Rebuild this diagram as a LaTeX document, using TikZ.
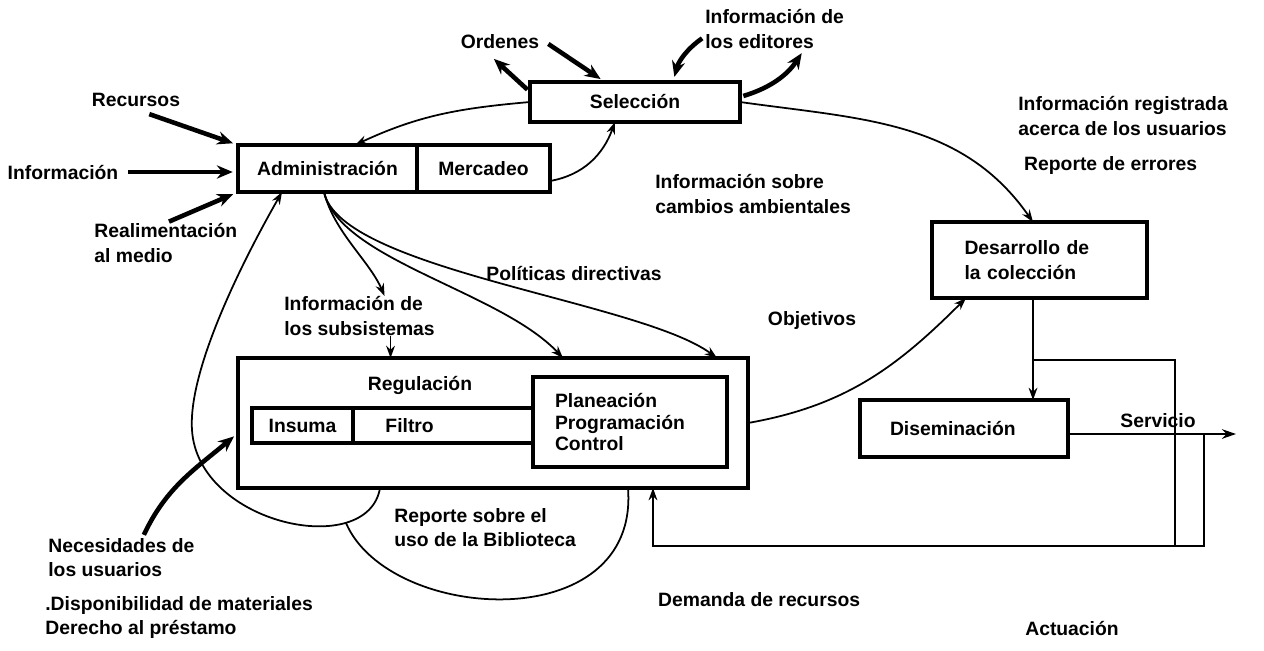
\documentclass[tikz,border=0pt]{standalone}
\usepackage{fontspec}
\setmainfont{Liberation Sans}
\usetikzlibrary{positioning, arrows.meta}

\begin{document}
\begin{tikzpicture}[
            x=0.02cm, y=-0.02cm, % one unit = one pixel of the scan
            every node/.style={font=\bfseries\fontsize{11}{14}\selectfont},
            block/.style={rectangle, draw, line width=2.2pt, outer sep=0pt, inner sep=2pt},
            note/.style={align=left, inner sep=0pt},
            arrow/.style={line width=1pt, -{Stealth[length=7pt, width=5pt]}}, % thin connectors
            bigarrow/.style={line width=2.6pt, -{Stealth[length=9pt, width=7.5pt]}, shorten >=3pt, shorten <=2pt},
            wire/.style={line width=1pt}
        ]
        \useasboundingbox (0,0) rectangle (1264,650);

        % Nodes
        \node[block, minimum width=4.2cm, minimum height=0.8cm] (sel) at (635,102) {Selección};
        \node[block, minimum width=3.58cm, minimum height=0.94cm] (admin) at (327.5,168.5) {Administración};
        \node[block, right=0pt of admin, minimum width=2.66cm, minimum height=0.94cm] (merc) {Mercadeo};
        \node[block, minimum width=10.2cm, minimum height=2.6cm] (reg) at (493,423) {};
        \node (reglbl) at (420,385) {Regulación};
        \node[block, minimum width=2.02cm, minimum height=0.7cm] (ins) at (302.5,425.5) {Insuma};
        \node[block, right=0pt of ins, minimum width=3.6cm, minimum height=0.7cm, text width=2.3cm, align=left] (fil) {Filtro};
        \node[block, minimum width=3.88cm, minimum height=1.8cm, text width=3.0cm, align=left,
              font=\bfseries\fontsize{11}{12.5}\selectfont] (plan) at (630,422) {Planeación\\Programación\\Control};
        \node[block, minimum width=4.3cm, minimum height=1.52cm, text width=3.0cm, align=left] (des) at (1039.5,260) {Desarrollo de\\la colección};
        \node[block, minimum width=4.16cm, minimum height=1.14cm, text width=2.96cm, align=left] (dis) at (964,428.5) {Diseminación};

        % Labels
        \node[note, anchor=north west] (edi) at (705,9) {Información de\\los editores};
        \node (ord) at (500,42) {Ordenes};
        \node (rec) at (136,100) {Recursos};
        \node (inf) at (63,172) {Información};
        \node[note, anchor=north west] (real) at (94,223) {Realimentación\\al medio};
        \node[note, anchor=north west] (amb) at (655,174) {Información sobre\\cambios ambientales};
        \node[note, anchor=north west] (usu) at (1018,96) {Información registrada\\acerca de los usuarios};
        \node[anchor=west] (err) at (1018,165) {Reporte de errores};
        \node (pol) at (574,273) {Políticas directivas};
        \node (obj) at (812,320) {Objetivos};
        \node[note, anchor=north west] (subs) at (284,296) {Información de\\los subsistemas};
        \node[note, anchor=north west] (rep) at (394,508) {Reporte sobre el\\uso de la Biblioteca};
        \node[anchor=west] (dem) at (652,600) {Demanda de recursos};
        \node (act) at (1072,628) {Actuación};
        \node[note, anchor=north west] (nec) at (48,538) {Necesidades de\\los usuarios};
        \node[note, anchor=north west] (disp) at (45,596) {.Disponibilidad de materiales\\Derecho al préstamo};
        \node (srv) at (1158,421) {Servicio};

        % Connections around the boxes
        \draw[bigarrow] ([xshift=0.2cm]rec.south) -- (admin.north west);
        \draw[bigarrow] (inf.east) -- (inf.east -| admin.west);
        \draw[bigarrow] (real.north) -- (admin.south west);
        \draw[bigarrow] ([yshift=-0.2cm]sel.north west) -- ([xshift=-0.2cm]ord.south);
        \draw[bigarrow] (ord.east) -- ([xshift=1.5cm]sel.north west);
        \draw[bigarrow] ([yshift=-0.15cm]edi.west) to[bend right=20] ([xshift=0.76cm]sel.north);
        \draw[bigarrow] ([yshift=0.1cm]sel.east) to[bend right=20] ([xshift=0.6cm]edi.south);
        \draw[bigarrow] ([xshift=0.42cm]nec.north) to[out=65, in=220] ([yshift=-0.2cm]reg.west);

        \draw[arrow] (sel.west) to[out=185, in=25] ([xshift=0.55cm]admin.north);
        \draw[arrow] ([yshift=-0.25cm]merc.east) to[out=10, in=250] ([xshift=-0.4cm]sel.south);
        \draw[arrow] (sel.east) to[out=-8, in=125] ([xshift=-0.13cm]des.north);

        % fan out of Administracion
        \draw[arrow] ([xshift=-0.07cm]admin.south) .. controls +(10,40) and +(-15,-35) .. ([xshift=0.5cm]subs.north);
        \draw[arrow] ([xshift=0.62cm]subs.south) -- ([xshift=0.62cm]subs.south |- reg.north);
        \draw[arrow] ([xshift=-0.07cm]admin.south) .. controls +(16,68) and +(-63,-67) .. ([xshift=1.4cm]reg.north);
        \draw[arrow] ([xshift=-0.07cm]admin.south) .. controls +(16,78) and +(-77,-57) .. ([xshift=4.48cm]reg.north);

        % loops under Regulacion
        \draw[arrow] ([xshift=-2.26cm]reg.south) .. controls +(-12,72) and +(6,95) .. (192,430)
            .. controls +(-4,-60) and +(-40,70) .. ([xshift=-0.91cm]admin.south);
        \draw[wire] ([xshift=2.7cm]reg.south) .. controls +(12,150) and +(43,100) .. (346,523);

        % right hand side
        \draw[arrow] (reg.east) to[out=10, in=225] ([xshift=0.68cm]des.south west);
        \draw[arrow] ([xshift=-0.13cm]des.south) -- ([xshift=-0.13cm]des.south |- dis.north);
        \coordinate (srvend) at (1236,434);
        \draw[line width=1pt, -{Stealth[length=8pt, width=5.5pt]}] ([yshift=-0.11cm]dis.east) -- (srvend);
        \coordinate (split) at (1033,360);
        \coordinate (tap) at (1204,434);
        \draw[wire] (split) -| (1175,546);
        \draw[arrow] (tap) -- (1204,546) -| ([xshift=3.2cm]reg.south);

\end{tikzpicture}
\end{document}
